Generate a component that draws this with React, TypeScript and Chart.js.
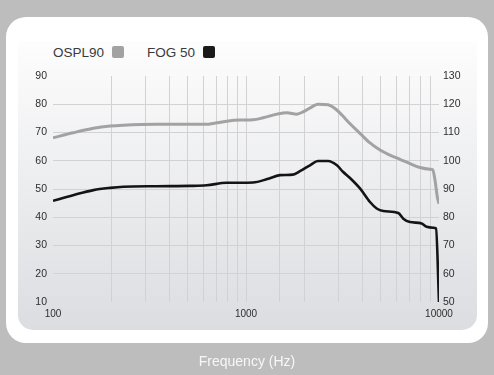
import React, { useEffect, useRef } from "react";
import { Chart, registerables } from "chart.js";

Chart.register(...registerables);

const osplFreq = [100, 127, 162, 198, 231, 345, 625, 676, 794, 931, 1087, 1226, 1446, 1630, 1834, 1975, 2198, 2360, 2660, 2891, 3141, 3400, 3896, 4390, 4947, 5573, 6281, 7074, 7972, 8981, 9276, 9535, 9800, 10000];
const osplValues = [108.1, 109.9, 111.5, 112.3, 112.6, 112.9, 112.9, 113.2, 114.0, 114.4, 114.5, 115.2, 116.5, 117.0, 116.5, 117.3, 119.1, 120.0, 119.8, 118.5, 116.2, 113.6, 109.7, 106.3, 103.8, 102.0, 100.5, 99.0, 97.6, 97.0, 96.8, 93.1, 87.2, 84.8];

const fogFreq = [100, 127, 162, 198, 231, 345, 512, 625, 794, 931, 1087, 1288, 1499, 1749, 1904, 2146, 2360, 2660, 2958, 3179, 3458, 3896, 4390, 4755, 5145, 6152, 6531, 7074, 8135, 8636, 9347, 9650, 10000];
const fogValues = [45.8, 47.8, 49.6, 50.4, 50.8, 51.0, 51.1, 51.3, 52.2, 52.2, 52.3, 53.5, 54.9, 55.1, 56.3, 58.4, 59.9, 59.9, 58.4, 56.1, 53.9, 50.2, 45.4, 43.1, 42.2, 41.5, 39.5, 38.3, 37.8, 36.6, 36.3, 36.0, 10];

const xTickLabels = [100, 1000, 10000];
const leftRange = [10, 90];
const rightRange = [50, 130];

const FONT = "'Liberation Sans', Arial, Helvetica, sans-serif";

export default function App() {
  const ref = useRef<HTMLCanvasElement | null>(null);

  useEffect(() => {
    if (!ref.current) return;
    const gridColor = (edge: number[]) => (ctx: any) =>
      ctx.tick && edge.includes(ctx.tick.value) ? "rgba(0,0,0,0)" : "#d2d2d4";
    const chart = new Chart(ref.current, {
      type: "line",
      data: {
        datasets: [
          {
            label: "OSPL90",
            data: osplFreq.map((f, i) => ({ x: f, y: osplValues[i] })),
            borderColor: "#a2a2a2",
            borderWidth: 3,
            pointRadius: 0,
            cubicInterpolationMode: "monotone",
            yAxisID: "yR",
          },
          {
            label: "FOG 50",
            data: fogFreq.map((f, i) => ({ x: f, y: fogValues[i] })),
            borderColor: "#141414",
            borderWidth: 2.6,
            pointRadius: 0,
            cubicInterpolationMode: "monotone",
            yAxisID: "yL",
          },
        ],
      },
      options: {
        animation: false,
        responsive: false,
        maintainAspectRatio: false,
        layout: { padding: { left: 0, right: 0, top: 76, bottom: 0 } },
        plugins: { legend: { display: false }, tooltip: { enabled: false } },
        scales: {
          x: {
            type: "logarithmic",
            min: 100,
            max: 10000,
            afterFit: (s: any) => {
              s.height = 73;
            },
            border: { display: false },
            grid: { drawTicks: false, color: gridColor([100, 10000]), lineWidth: 1 },
            ticks: {
              autoSkip: false,
              maxRotation: 0,
              padding: 6,
              color: "#2e2e2e",
              font: { family: FONT, size: 10 },
              callback: (v: any) => (xTickLabels.includes(Number(v)) ? String(v) : ""),
            },
          },
          yL: {
            position: "left",
            min: leftRange[0],
            max: leftRange[1],
            afterFit: (s: any) => {
              s.width = 53;
            },
            border: { display: false },
            grid: { drawTicks: false, color: gridColor(leftRange), lineWidth: 1 },
            ticks: {
              stepSize: 10,
              padding: 6,
              color: "#2e2e2e",
              font: { family: FONT, size: 10.5 },
            },
          },
          yR: {
            position: "right",
            min: rightRange[0],
            max: rightRange[1],
            afterFit: (s: any) => {
              s.width = 55;
            },
            border: { display: false },
            grid: { display: false, drawTicks: false },
            ticks: {
              stepSize: 10,
              padding: 4,
              color: "#2e2e2e",
              font: { family: FONT, size: 10.5 },
            },
          },
        },
      },
    });
    return () => chart.destroy();
  }, []);

  return (
    <div
      style={{
        position: "fixed",
        left: 0,
        top: 0,
        width: 494,
        height: 375,
        background: "#bdbdbd",
        overflow: "hidden",
        fontFamily: FONT,
      }}
    >
      <div
        style={{
          position: "absolute",
          left: 6,
          top: 17,
          width: 482,
          height: 326,
          background: "#ffffff",
          borderRadius: 20,
        }}
      />
      <div
        style={{
          position: "absolute",
          left: 18,
          top: 41,
          width: 459,
          height: 289,
          background: "linear-gradient(#fdfdfd, #dcdde1)",
          borderRadius: "4px 4px 15px 15px",
        }}
      />
      <div style={{ position: "absolute", left: 53, top: 43, height: 18, display: "flex", alignItems: "center", fontSize: 13.5, color: "#3a3a3a" }}>
        <span>OSPL90</span>
        <span style={{ display: "inline-block", width: 12, height: 12, borderRadius: 2, background: "#a2a2a2", marginLeft: 8 }} />
        <span style={{ marginLeft: 23 }}>FOG 50</span>
        <span style={{ display: "inline-block", width: 12, height: 12, borderRadius: 2, background: "#1a1a1a", marginLeft: 8 }} />
      </div>
      <canvas ref={ref} width={494} height={375} style={{ position: "absolute", left: 0, top: 0 }} />
      <div style={{ position: "absolute", left: 0, width: 494, top: 353, textAlign: "center", color: "#f7f7f7", fontSize: 14 }}>
        Frequency (Hz)
      </div>
    </div>
  );
}
